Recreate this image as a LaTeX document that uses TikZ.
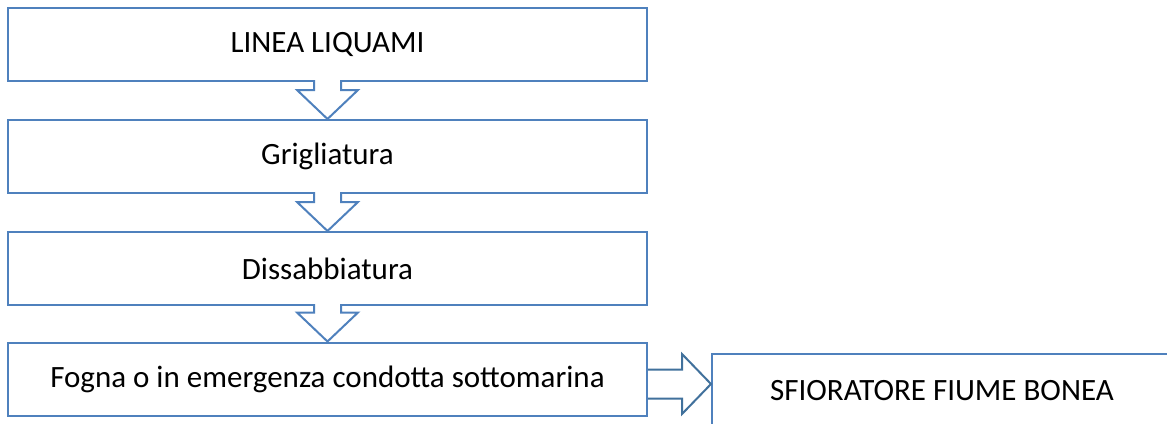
\documentclass[tikz,border=0pt]{standalone}
\usepackage{fontspec}
\setmainfont{Carlito}
\usetikzlibrary{calc}
\definecolor{boxblue}{RGB}{79,129,189}
\definecolor{arrowblue}{RGB}{65,113,156}
\begin{document}
\begin{tikzpicture}[x=1pt,y=-1pt,
  stepbox/.style={draw=boxblue,line width=2pt,fill=white,rectangle,
    minimum width=639pt,minimum height=73pt,inner sep=0pt,
    font=\fontsize{31}{36}\selectfont,text=black},
  sidebox/.style={stepbox,minimum width=460pt,minimum height=74pt},
  downarrow/.style={draw=boxblue,line width=2pt,fill=white,line join=miter},
  rightarrow/.style={draw=arrowblue,line width=2pt,line join=miter}]
\clip (0,0) rectangle (1167,423);
\fill[white] (0,0) rectangle (1167,423);

% process steps
\node[stepbox] (b1) at (327.5,44.5) {LINEA LIQUAMI};
\node[stepbox] (b2) at (327.5,156.5) {Grigliatura};
\node[stepbox] (b3) at (327.5,268.5) {Dissabbiatura};
\node[stepbox] (b4) at (327.5,379) {Fogna o in emergenza condotta sottomarina};
\node[sidebox] (b5) at (942,391) {SFIORATORE FIUME BONEA};

% block arrows between the steps
\foreach \a/\b in {b1/b2,b2/b3,b3/b4}{
  \draw[downarrow]
    ($(\a.south)+(-13.5,-2)$) -- ($(\b.north)+(-13.5,-29)$)
    -- ($(\b.north)+(-30.5,-29)$) -- (\b.north)
    -- ($(\b.north)+(30.5,-29)$) -- ($(\b.north)+(13.5,-29)$)
    -- ($(\a.south)+(13.5,-2)$);
}

% block arrow to the overflow
\path (b4.east) ++(0,5) coordinate (mid);
\coordinate (tip) at (b5.west |- mid);
\draw[rightarrow]
  ($(mid)+(0,-14.5)$) -- ($(tip)+(-29,-14.5)$) -- ($(tip)+(-29,-30)$)
  -- (tip) -- ($(tip)+(-29,30)$) -- ($(tip)+(-29,14.5)$)
  -- ($(mid)+(0,14.5)$);
\end{tikzpicture}
\end{document}
